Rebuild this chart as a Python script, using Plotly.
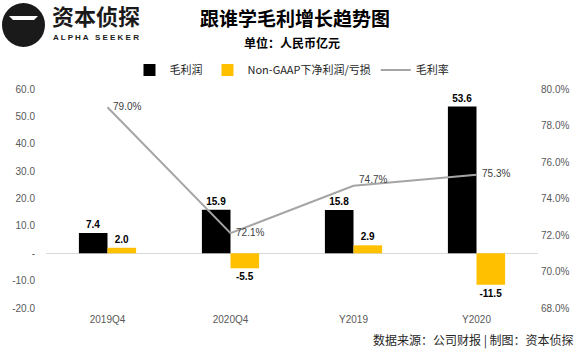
import plotly.graph_objects as go

categories = ["2019Q4", "2020Q4", "Y2019", "Y2020"]
gross_profit = [7.4, 15.9, 15.8, 53.6]
non_gaap = [2.0, -5.5, 2.9, -11.5]
gross_margin = [79.0, 72.1, 74.7, 75.3]

left_ticks = [-20, -10, 0, 10, 20, 30, 40, 50, 60]
left_tick_text = ["-20.0", "-10.0", "-", "10.0", "20.0", "30.0", "40.0", "50.0", "60.0"]
right_ticks = [68, 70, 72, 74, 76, 78, 80]
right_tick_text = ["68.0%", "70.0%", "72.0%", "74.0%", "76.0%", "78.0%", "80.0%"]

W, H = 580, 351
L, R, T, B = 46, 42, 89, 43
PW, PH = W - L - R, H - T - B


def px(x):
    return (x - L) / PW


def py(y):
    return 1 - (y - T) / PH


cjk = "Noto Sans CJK SC"
tick_font = dict(family="Liberation Sans, Arial", size=10, color="#595959")
lab_font = dict(family="Liberation Sans, Arial", size=10, color="#000000")

fig = go.Figure()
fig.add_trace(go.Bar(
    x=categories, y=gross_profit, name="毛利润", marker_color="#000000",
    marker_line_width=0,
    text=[f"<b>{v:.1f}</b>" for v in gross_profit], textposition="outside",
    textfont=lab_font, cliponaxis=False,
))
fig.add_trace(go.Bar(
    x=categories, y=non_gaap, name="Non-GAAP下净利润/亏损", marker_color="#FFC000",
    marker_line_width=0,
    text=[f"<b>{v:.1f}</b>" for v in non_gaap], textposition="outside",
    textfont=lab_font, cliponaxis=False,
))
fig.add_trace(go.Scatter(
    x=categories, y=gross_margin, name="毛利率", yaxis="y2", mode="lines+text",
    line=dict(color="#A5A5A5", width=2),
    text=[f"&nbsp;&nbsp;{v:.1f}%" for v in gross_margin],
    textposition=["middle right", "middle right", "top right", "middle right"],
    textfont=dict(family="Liberation Sans, Arial", size=10, color="#404040"),
    cliponaxis=False,
))

fig.update_layout(
    width=W, height=H,
    margin=dict(l=L, r=R, t=T, b=B),
    paper_bgcolor="white", plot_bgcolor="white",
    barmode="group", bargap=0.535, bargroupgap=0,
    showlegend=True,
    legend=dict(orientation="h", x=px(292), xanchor="center", y=py(70), yanchor="middle",
                font=dict(family=cjk, size=11, color="#262626"),
                tracegroupgap=0),
    xaxis=dict(showline=False, showgrid=False, ticks="", ticklabelstandoff=4,
               tickfont=tick_font),
    yaxis=dict(range=[-20, 60], tickvals=left_ticks, ticktext=left_tick_text,
               showgrid=False, zeroline=True, zerolinecolor="#D9D9D9", zerolinewidth=1,
               tickfont=tick_font, ticks="", ticklabelstandoff=10),
    yaxis2=dict(range=[68, 80], tickvals=right_ticks, ticktext=right_tick_text,
                overlaying="y", side="right", showgrid=False, zeroline=False,
                tickfont=tick_font, ticks="", ticklabelstandoff=2),
    font=dict(family=cjk),
)

# Title and subtitle
fig.add_annotation(text="<b>跟谁学毛利增长趋势图</b>", xref="paper", yref="paper",
                   x=px(295), y=py(18), yanchor="middle", showarrow=False,
                   font=dict(family=cjk, size=19, color="#000000"))
fig.add_annotation(text="<b>单位：人民币亿元</b>", xref="paper", yref="paper",
                   x=px(292), y=py(43), yanchor="middle", showarrow=False,
                   font=dict(family=cjk, size=12, color="#000000"))

# Logo
fig.add_shape(type="circle", xref="paper", yref="paper",
              x0=px(2), x1=px(45), y0=py(47), y1=py(3),
              fillcolor="#1A1A1A", line=dict(width=0))
fig.add_shape(type="path", xref="paper", yref="paper",
              path=f"M {px(9)},{py(16)} L {px(38)},{py(16)} L {px(34)},{py(20)} L {px(13)},{py(20)} Z",
              fillcolor="white", line=dict(width=0))
fig.add_annotation(text="<b>资本侦探</b>", xref="paper", yref="paper",
                   x=px(50), y=py(15), xanchor="left", yanchor="middle",
                   showarrow=False, font=dict(family=cjk, size=22, color="#1A1A1A"))
fig.add_annotation(text="<b>A L P H A   S E E K E R</b>", xref="paper", yref="paper",
                   x=px(51), y=py(37), xanchor="left", yanchor="middle",
                   showarrow=False, font=dict(family="Liberation Sans, Arial", size=8, color="#1A1A1A"))

# Footer
fig.add_annotation(text="数据来源：公司财报 | 制图：资本侦探", xref="paper", yref="paper",
                   x=px(576), y=py(340), xanchor="right", yanchor="middle",
                   showarrow=False, font=dict(family=cjk, size=12, color="#262626"))

fig.write_html("out.html")
